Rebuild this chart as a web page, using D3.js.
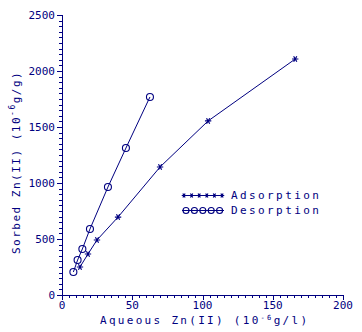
<!DOCTYPE html>
<html>
<head>
<meta charset="utf-8">
<script src="https://cdn.jsdelivr.net/npm/d3@7"></script>
<style>
  body { margin: 0; background: #fff; }
  text { font-family: "DejaVu Sans Mono", monospace; fill: #000080; }
</style>
</head>
<body>
<svg id="mainsvg" width="362" height="332"></svg>
<script>
// data
const adsX = [12.8, 18.5, 24.9, 39.9, 69.8, 104, 166];
const adsY = [250, 366, 491, 696, 1143, 1554, 2107];
const desX = [8.1, 11.1, 14.5, 19.9, 32.7, 45.5, 62.6];
const desY = [205, 312, 411, 589, 964, 1312, 1768];
const xTicks = [0, 50, 100, 150, 200];
const yTicks = [0, 500, 1000, 1500, 2000, 2500];
const seriesNames = ['Adsorption', 'Desorption'];

const col = '#000080';
const svg = d3.select('#mainsvg');

const xScale = d3.scaleLinear().domain([0, 200]).range([62, 343]);
const yScale = d3.scaleLinear().domain([0, 2500]).range([295, 15]);

// axes, major + minor ticks
const xMinor = d3.range(0, 201, 5);
const yMinor = d3.range(0, 2501, 50);

svg.append('line').attr('x1', 62).attr('x2', 343).attr('y1', 295.5).attr('y2', 295.5).attr('stroke', col);
svg.append('line').attr('x1', 62.5).attr('x2', 62.5).attr('y1', 15).attr('y2', 295).attr('stroke', col);

svg.append('g').selectAll('line').data(xMinor).enter().append('line')
  .attr('x1', d => Math.round(xScale(d)) + 0.5).attr('x2', d => Math.round(xScale(d)) + 0.5)
  .attr('y1', 295).attr('y2', d => xTicks.includes(d) ? 300 : 298)
  .attr('stroke', col);
svg.append('g').selectAll('line').data(yMinor).enter().append('line')
  .attr('y1', d => Math.round(yScale(d)) + 0.5).attr('y2', d => Math.round(yScale(d)) + 0.5)
  .attr('x1', 62).attr('x2', d => yTicks.includes(d) ? 57 : 59)
  .attr('stroke', col);

svg.append('g').selectAll('text').data(xTicks).enter().append('text')
  .attr('x', d => xScale(d)).attr('y', 309)
  .attr('text-anchor', 'middle').style('font-size', '11px')
  .text(d => d);
svg.append('g').selectAll('text').data(yTicks).enter().append('text')
  .attr('x', 55).attr('y', d => yScale(d) + 4)
  .attr('text-anchor', 'end').style('font-size', '11px')
  .text(d => d);

// axis titles
const xt = svg.append('text').attr('x', 100).attr('y', 324)
  .style('font-size', '11px').style('letter-spacing', '2.3px');
xt.append('tspan').text('Aqueous Zn(II) (10');
xt.append('tspan').attr('dy', -4).style('font-size', '7px').text('-6');
xt.append('tspan').attr('dy', 4).text('g/l)');

const yt = svg.append('text').attr('transform', 'translate(20,254) rotate(-90)')
  .style('font-size', '11px').style('letter-spacing', '1.5px');
yt.append('tspan').text('Sorbed Zn(II) (10');
yt.append('tspan').attr('dy', -5).style('font-size', '8px').text('-6');
yt.append('tspan').attr('dy', 5).text('g/g)');

// lines
const line = d3.line().x(d => xScale(d[0])).y(d => yScale(d[1]));
const ads = adsX.map((x, i) => [x, adsY[i]]);
const des = desX.map((x, i) => [x, desY[i]]);

svg.append('path').datum(ads).attr('d', line).attr('fill', 'none').attr('stroke', col);
svg.append('path').datum(des).attr('d', line).attr('fill', 'none').attr('stroke', col);

function drawStars(g, pts, size) {
  const star = d3.symbol().type(d3.symbolAsterisk).size(size);
  g.selectAll('path.star').data(pts).enter().append('path')
    .attr('class', 'star')
    .attr('transform', d => `translate(${d[0]},${d[1]}) rotate(90)`)
    .attr('d', star).attr('fill', 'none').attr('stroke', col).attr('stroke-width', 1.2);
}
function drawCircles(g, pts, r) {
  g.selectAll('circle').data(pts).enter().append('circle')
    .attr('cx', d => d[0]).attr('cy', d => d[1]).attr('r', r)
    .attr('fill', 'none').attr('stroke', col).attr('stroke-width', 1.1);
}
drawStars(svg.append('g'), ads.map(d => [xScale(d[0]), yScale(d[1])]), 28);
drawCircles(svg.append('g'), des.map(d => [xScale(d[0]), yScale(d[1])]), 3.5);

// legend
const legY = [195, 210];
const lg = svg.append('g');
legY.forEach((y, i) => {
  lg.append('line').attr('x1', 182).attr('x2', 224).attr('y1', y + 0.5).attr('y2', y + 0.5).attr('stroke', col);
  lg.append('text').attr('x', 231).attr('y', y + 4)
    .style('font-size', '11px').style('letter-spacing', '2.4px')
    .text(seriesNames[i]);
});
drawStars(lg.append('g'), d3.range(6).map(k => [184 + k * 7.6, legY[0] + 0.5]), 14);
drawCircles(lg.append('g'), d3.range(5).map(k => [186 + k * 8.4, legY[1] + 0.5]), 3);
</script>
</body>
</html>
